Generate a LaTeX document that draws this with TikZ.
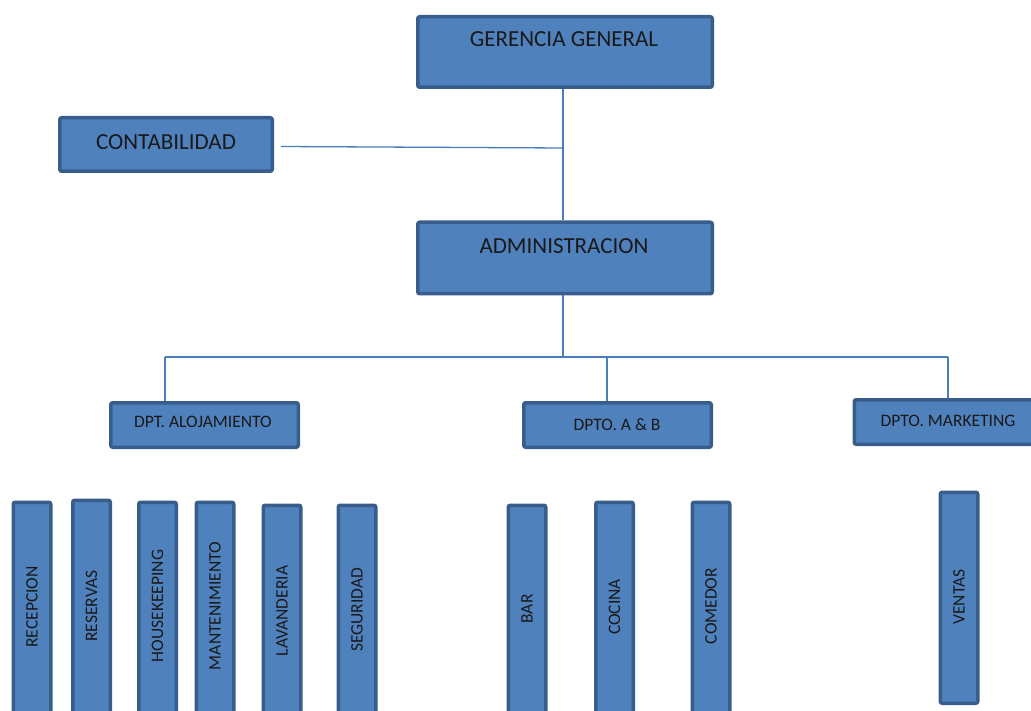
\documentclass[tikz,border=0pt]{standalone}
\usepackage{fontspec}
\setmainfont{Carlito}
\usetikzlibrary{backgrounds}
\definecolor{boxfill}{HTML}{4F81BD}
\definecolor{boxline}{HTML}{385D8A}
\definecolor{connc}{HTML}{4A7EBB}
\tikzset{
 orgbox/.style={draw=boxline, fill=boxfill, line width=3.5pt, rounded corners=2pt, inner sep=0pt},
 bigtxt/.style={font=\fontsize{23}{26}\selectfont, anchor=base, inner sep=0pt, text=black!90},
 midtxt/.style={font=\fontsize{17.5}{20}\selectfont, anchor=base, inner sep=0pt, text=black!90},
 vtxt/.style={font=\fontsize{17.5}{20}\selectfont, rotate=90, inner sep=0pt, anchor=center, text=black!90},
 vbox/.style={orgbox, minimum width=37.5, anchor=north},
 conn/.style={draw=connc, line width=1.3pt}
}
\begin{document}
\begin{tikzpicture}[x=1pt,y=-1pt]
\useasboundingbox (0,0) rectangle (1031,711);
\clip (0,0) rectangle (1031,711);
% top boxes
\node[orgbox, minimum width=294.5, minimum height=70.5] (gg) at (565,52) {};
\node[orgbox, minimum width=212.5, minimum height=53.5] (cont) at (166,144.5) {};
\node[orgbox, minimum width=294.5, minimum height=71.5] (adm) at (565,258) {};
\node[orgbox, minimum width=187.5, minimum height=44.5] (aloj) at (204.5,425) {};
\node[orgbox, minimum width=187.5, minimum height=44.5] (ab) at (617.5,425) {};
\node[orgbox, minimum width=187.5, minimum height=44.5] (mkt) at (948,422) {};
% texts
\node[bigtxt] (tgg) at (564,47) {GERENCIA GENERAL};
\node[bigtxt] (tcont) at (166,150) {CONTABILIDAD};
\node[bigtxt] (tadm) at (564,254) {ADMINISTRACION};
\node[midtxt] (taloj) at (203,427) {DPT. ALOJAMIENTO};
\node[midtxt] (tab) at (617,430) {DPTO. A \& B};
\node[midtxt] (tmkt) at (948,426) {DPTO. MARKETING};
% vertical boxes
\node[vbox, minimum height=240] (rec) at (32,500.5) {};
\node[vbox, minimum height=240] (res) at (91.5,498.5) {};
\node[vbox, minimum height=240] (hk) at (157.5,500.5) {};
\node[vbox, minimum height=240] (mant) at (215,500.5) {};
\node[vbox, minimum height=240] (lav) at (282,503.5) {};
\node[vbox, minimum height=240] (seg) at (357,503.5) {};
\node[vbox, minimum height=240] (bar) at (527,503.5) {};
\node[vbox, minimum height=240] (coc) at (614.5,500.5) {};
\node[vbox, minimum height=240] (com) at (711,500.5) {};
\node[vbox, minimum height=211] (ven) at (959,490.5) {};
\node[vtxt] (trec) at (32,607) {RECEPCION};
\node[vtxt] (tres) at (91.5,606) {RESERVAS};
\node[vtxt] (thk) at (157.5,606) {HOUSEKEEPING};
\node[vtxt] (tmant) at (215,606) {MANTENIMIENTO};
\node[vtxt] (tlav) at (282,611) {LAVANDERIA};
\node[vtxt] (tseg) at (357,610) {SEGURIDAD};
\node[vtxt] (tbar) at (527,609) {BAR};
\node[vtxt] (tcoc) at (614.5,607) {COCINA};
\node[vtxt] (tcom) at (711,606) {COMEDOR};
\node[vtxt] (tven) at (959,597) {VENTAS};
% connectors
\coordinate (jc) at (563,148);
\coordinate (jb) at (563,357);
\coordinate (ja) at (165,357);
\coordinate (jab) at (607,357);
\coordinate (jm) at (948,357);
\begin{pgfonlayer}{background}
\draw[conn] (gg.south -| jc) -- (adm.north -| jc);
\draw[conn] ([xshift=7pt,yshift=-2pt]cont.east) -- (jc);
\draw[conn] (adm.south -| jb) -- (jb);
\draw[conn] (ja) -- (jm);
\draw[conn] (ja) -- (aloj.north -| ja);
\draw[conn] (jab) -- (ab.north -| jab);
\draw[conn] (jm) -- (mkt.north);
\end{pgfonlayer}
\end{tikzpicture}
\end{document}
